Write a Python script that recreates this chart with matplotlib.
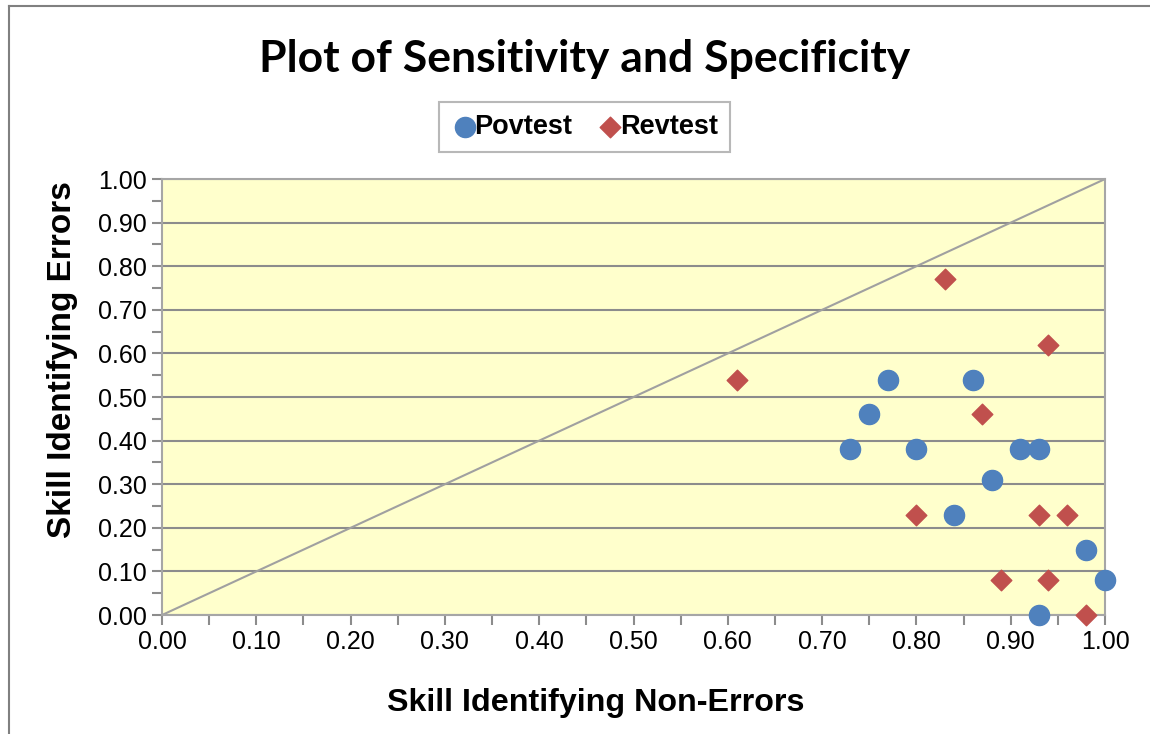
import matplotlib
matplotlib.use('Agg')
import matplotlib.pyplot as plt
from matplotlib.lines import Line2D
import numpy as np

# sensitivity / specificity values
pov_x = [0.73, 0.75, 0.77, 0.80, 0.84, 0.86, 0.88, 0.91, 0.93, 0.93, 0.98, 1.00]
pov_y = [0.38, 0.46, 0.54, 0.38, 0.23, 0.54, 0.31, 0.38, 0.38, 0.00, 0.15, 0.08]
rev_x = [0.61, 0.80, 0.83, 0.87, 0.89, 0.93, 0.94, 0.94, 0.96, 0.98]
rev_y = [0.54, 0.23, 0.77, 0.46, 0.08, 0.23, 0.62, 0.08, 0.23, 0.00]
diag = [0.0, 1.0]
ticks = np.round(np.arange(0, 1.01, 0.1), 2)

plt.rcParams['font.family'] = ['Liberation Sans', 'DejaVu Sans']

fig = plt.figure(figsize=(11.5, 7.34), dpi=100)
ax = fig.add_axes([0.1409, 0.1621, 0.8200, 0.5940])
ax.set_facecolor('#FFFFCC')

ax.plot(diag, diag, color='#A0A0A0', linewidth=1.5, zorder=2)
ax.scatter(pov_x, pov_y, s=210, marker='o', color='#4F81BD', label='Povtest', zorder=3, clip_on=False)
ax.scatter(rev_x, rev_y, s=110, marker='D', color='#C0504D', label='Revtest', zorder=3, clip_on=False)

ax.set_xlim(0, 1)
ax.set_ylim(0, 1)
ax.set_xticks(ticks)
ax.set_yticks(ticks)
ax.set_xticklabels(['%.2f' % t for t in ticks])
ax.set_yticklabels(['%.2f' % t for t in ticks])
ax.set_xticks(np.arange(0.05, 1.0, 0.1), minor=True)
ax.set_yticks(np.arange(0.05, 1.0, 0.1), minor=True)
ax.tick_params(axis='both', which='major', labelsize=18, length=7, width=1.5, color='#8C8C8C', pad=4)
ax.tick_params(axis='both', which='minor', length=7, width=1.5, color='#8C8C8C')
ax.grid(axis='y', color='#8C8C8C', linewidth=1.5, zorder=1)
ax.set_axisbelow(True)
for sp in ax.spines.values():
    sp.set_color('#A6A6A6')
    sp.set_linewidth(1.5)

ax.set_xlabel('Skill Identifying Non-Errors', fontsize=23.2, fontweight='bold', labelpad=24)
ax.set_ylabel('Skill Identifying Errors', fontsize=24, fontweight='bold', labelpad=14)
# Excel centres the axis titles on the chart area, not the plot area
ax.xaxis.label.set_x(0.460)
ax.yaxis.label.set_y(0.587)

fig.text(0.508, 0.920, 'Plot of Sensitivity and Specificity', ha='center', va='center',
         fontsize=32, fontweight='bold', family='Lato')

leg = fig.legend(loc='center', bbox_to_anchor=(0.5083, 0.827), ncol=2, frameon=True, fancybox=False,
                 prop={'size': 19.5, 'weight': 'bold'}, handlelength=1.0, handletextpad=-0.15,
                 columnspacing=0.9, borderpad=0.45, markerscale=1.0)
leg.get_frame().set_edgecolor('#A6A6A6')
leg.get_frame().set_linewidth(1.5)

# outer chart border (only top and left visible)
fig.add_artist(Line2D([0.0075, 1.0], [0.9925, 0.9925], color='#808080', linewidth=1.5, transform=fig.transFigure))
fig.add_artist(Line2D([0.0075, 0.0075], [0.0, 0.9925], color='#808080', linewidth=1.5, transform=fig.transFigure))

fig.savefig('out.png', dpi=100)
